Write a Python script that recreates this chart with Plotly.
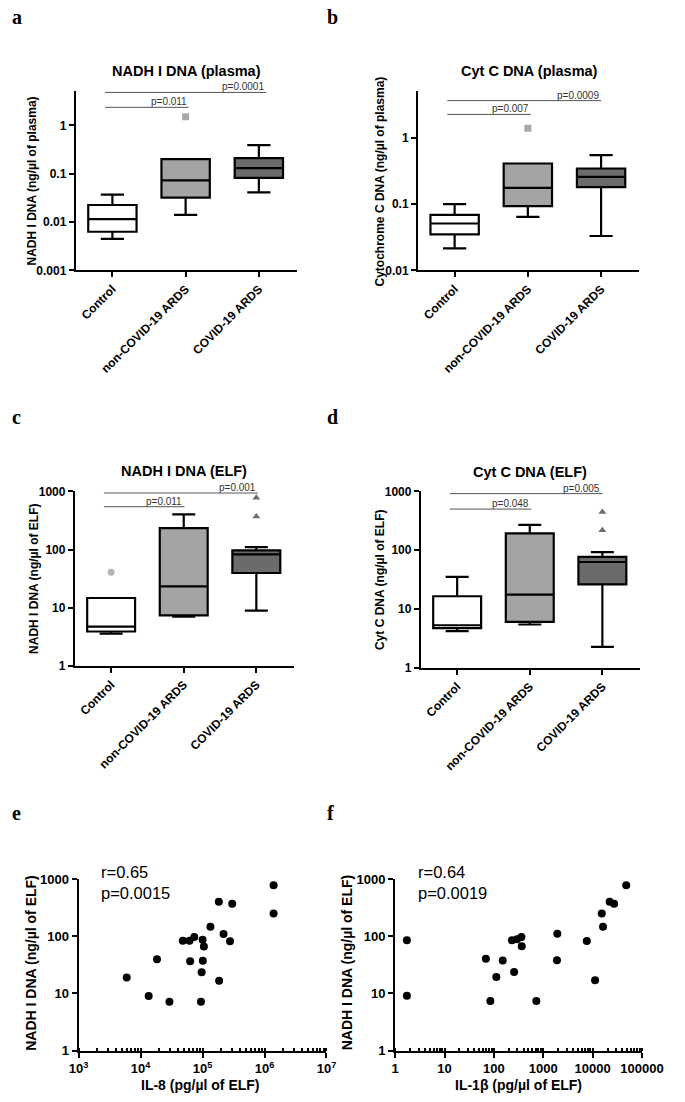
import math
import plotly.graph_objects as go

W, H = 685, 1102
FONT = "Liberation Sans"

GROUPS = ["Control", "non-COVID-19 ARDS", "COVID-19 ARDS"]
BOX_FILL = ["#ffffff", "#a4a4a6", "#6b6b6b"]
OUT_SYMBOL = {"Control": "circle", "non-COVID-19 ARDS": "square", "COVID-19 ARDS": "triangle-up"}
OUT_COLOR = {"Control": "#b4b4b4", "non-COVID-19 ARDS": "#a8a8a8", "COVID-19 ARDS": "#6e6e6e"}

# ---- Panel a: NADH I DNA (plasma)
A_LOW = [0.0045, 0.014, 0.041]
A_Q1 = [0.0063, 0.032, 0.082]
A_MED = [0.0115, 0.073, 0.13]
A_Q3 = [0.0225, 0.20, 0.21]
A_HIGH = [0.037, 0.20, 0.39]
A_OUT_G = ["non-COVID-19 ARDS"]
A_OUT_V = [1.5]
A_SIG_END = [1.04, 2.1]
A_SIG_Y = [2.36, 4.8]
A_SIG_TXT = ["p=0.011", "p=0.0001"]

# ---- Panel b: Cyt C DNA (plasma)
B_LOW = [0.0215, 0.064, 0.033]
B_Q1 = [0.035, 0.093, 0.18]
B_MED = [0.051, 0.176, 0.257]
B_Q3 = [0.069, 0.41, 0.345]
B_HIGH = [0.10, 0.41, 0.55]
B_OUT_G = ["non-COVID-19 ARDS"]
B_OUT_V = [1.4]
B_SIG_END = [1.04, 2.0]
B_SIG_Y = [2.26, 3.65]
B_SIG_TXT = ["p=0.007", "p=0.0009"]

# ---- Panel c: NADH I DNA (ELF)
C_LOW = [3.57, 7.0, 8.9]
C_Q1 = [3.9, 7.4, 39.5]
C_MED = [4.75, 23.2, 82.8]
C_Q3 = [14.7, 234, 96.7]
C_HIGH = [14.7, 403, 110]
C_OUT_G = ["Control", "COVID-19 ARDS", "COVID-19 ARDS"]
C_OUT_V = [40.5, 773, 368]
C_SIG_END = [1.01, 2.02]
C_SIG_Y = [544, 935]
C_SIG_TXT = ["p=0.011", "p=0.001"]

# ---- Panel d: Cyt C DNA (ELF)
D_LOW = [4.2, 5.46, 2.28]
D_Q1 = [4.74, 6.05, 26.2]
D_MED = [5.3, 17.6, 63]
D_Q3 = [16.5, 193, 77.2]
D_HIGH = [35.3, 269, 92.5]
D_OUT_G = ["COVID-19 ARDS", "COVID-19 ARDS"]
D_OUT_V = [445, 219]
D_SIG_END = [1.02, 2.0]
D_SIG_Y = [499, 914]
D_SIG_TXT = ["p=0.048", "p=0.005"]

# ---- Panel e: IL-8 vs NADH I DNA (ELF)
E_IL8 = [5970, 13500, 18400, 29200, 48000, 61500, 63000, 73500, 94200, 96600, 100000,
         101000, 105000, 134000, 183000, 185000, 218000, 277000, 301000, 1400000, 1400000]
E_NADH = [18.9, 8.96, 39.7, 7.14, 83.5, 83.5, 36.6, 96.6, 7.14, 23.3, 86.9,
          37.1, 65.7, 146, 400, 16.7, 109, 81.3, 370, 778, 248]

# ---- Panel f: IL-1β vs NADH I DNA (ELF)
F_IL1B = [1.73, 1.73, 68.9, 84.8, 112, 151, 232, 257, 294, 361, 367,
          724, 1925, 1895, 7620, 11200, 15300, 16200, 22100, 27200, 47800]
F_NADH = [84.6, 9.08, 40.2, 7.34, 19.4, 37.6, 84.6, 23.6, 88, 96.6, 66.6,
          7.34, 110, 38.1, 82.4, 16.9, 248, 146, 400, 370, 778]

E_XTICKS = [1e3, 1e4, 1e5, 1e6, 1e7]
E_XLABELS = ["10<sup>3</sup>", "10<sup>4</sup>", "10<sup>5</sup>", "10<sup>6</sup>", "10<sup>7</sup>"]
F_XTICKS = [1, 10, 100, 1000, 10000, 100000]
F_XLABELS = ["1", "10", "100", "1000", "10000", "100000"]


def px(x):
    return x / W


def py(y):
    return 1 - y / H


fig = go.Figure()
annotations = []
shapes = []

AX = dict(showline=True, linecolor="black", linewidth=2, ticks="outside", ticklen=5,
          tickwidth=2, tickcolor="black", showgrid=False, zeroline=False,
          tickfont=dict(family=FONT, size=12, color="black", weight="bold"))


def box_panel(n, low, q1, med, q3, high, out_g, out_v, sig_end, sig_y, sig_txt,
              xdom, ydom, yrange, title, title_xy, ytitle, ytitle_xy):
    xa = "x" if n == 1 else f"x{n}"
    ya = "y" if n == 1 else f"y{n}"
    for i, g in enumerate(GROUPS):
        fig.add_trace(go.Box(
            x=[g], q1=[q1[i]], median=[med[i]], q3=[q3[i]],
            lowerfence=[low[i]], upperfence=[high[i]],
            fillcolor=BOX_FILL[i], line=dict(color="black", width=2.2),
            whiskerwidth=0.48, width=0.66, boxpoints=False,
            xaxis=xa, yaxis=ya, showlegend=False, hoverinfo="skip"))
    for g, v in zip(out_g, out_v):
        fig.add_trace(go.Scatter(
            x=[g], y=[v], mode="markers",
            marker=dict(symbol=OUT_SYMBOL[g], color=OUT_COLOR[g], size=7, line=dict(width=0)),
            xaxis=xa, yaxis=ya, showlegend=False, hoverinfo="skip"))
    for e, yv, t in zip(sig_end, sig_y, sig_txt):
        shapes.append(dict(type="line", xref=xa, yref=ya, x0=-0.1, x1=e, y0=yv, y1=yv,
                           line=dict(color="#555555", width=1)))
        annotations.append(dict(xref=xa, yref=ya, x=e, y=math.log10(yv), text=t, showarrow=False,
                                xanchor="right", yanchor="bottom", yshift=-2,
                                font=dict(family=FONT, size=10, color="#333333")))
    xk = "xaxis" if n == 1 else f"xaxis{n}"
    yk = "yaxis" if n == 1 else f"yaxis{n}"
    fig.layout[xk] = dict(AX, domain=[px(xdom[0]), px(xdom[1])], anchor=ya,
                          type="category", categoryorder="array", categoryarray=GROUPS,
                          range=[-0.5, 2.52], tickangle=-45)
    fig.layout[yk] = dict(AX, domain=[py(ydom[1]), py(ydom[0])], anchor=xa,
                          type="log", range=yrange, dtick=1, exponentformat="none")
    annotations.append(dict(xref="paper", yref="paper", x=px(title_xy[0]), y=py(title_xy[1]),
                            text=title, showarrow=False, xanchor="center", yanchor="middle",
                            font=dict(family=FONT, size=14.5, color="black", weight="bold")))
    annotations.append(dict(xref="paper", yref="paper", x=px(ytitle_xy[0]), y=py(ytitle_xy[1]),
                            text=ytitle, showarrow=False, textangle=-90,
                            xanchor="center", yanchor="middle",
                            font=dict(family=FONT, size=12, color="black", weight="bold")))


box_panel(1, A_LOW, A_Q1, A_MED, A_Q3, A_HIGH, A_OUT_G, A_OUT_V, A_SIG_END, A_SIG_Y, A_SIG_TXT,
          (69, 301), (85, 267), [-3, 0.714], "NADH I DNA (plasma)", (185, 65),
          "NADH I DNA (ng/µl of plasma)", (23, 176))
box_panel(2, B_LOW, B_Q1, B_MED, B_Q3, B_HIGH, B_OUT_G, B_OUT_V, B_SIG_END, B_SIG_Y, B_SIG_TXT,
          (428, 660), (85, 267), [-2, 0.71], "Cyt C DNA (plasma)", (545, 65),
          "Cytochrome C DNA (ng/µl of plasma)", (388, 177))
box_panel(3, C_LOW, C_Q1, C_MED, C_Q3, C_HIGH, C_OUT_G, C_OUT_V, C_SIG_END, C_SIG_Y, C_SIG_TXT,
          (68, 298), (491, 668), [0, 3], "NADH I DNA (ELF)", (183, 470),
          "NADH I DNA (ng/µl of ELF)", (25, 580))
box_panel(4, D_LOW, D_Q1, D_MED, D_Q3, D_HIGH, D_OUT_G, D_OUT_V, D_SIG_END, D_SIG_Y, D_SIG_TXT,
          (431, 661), (491, 670), [0, 3], "Cyt C DNA (ELF)", (546, 471),
          "Cyt C DNA (ng/µl of ELF)", (388, 581))

# ---- scatter panels
MINOR = dict(ticks="inside", ticklen=3, tickwidth=1.5, tickcolor="black", dtick="D1", showgrid=False)
SC_TICK = dict(family=FONT, size=13, color="black", weight="bold")

fig.add_trace(go.Scatter(x=E_IL8, y=E_NADH, mode="markers", xaxis="x5", yaxis="y5",
                         marker=dict(color="black", size=8), showlegend=False, hoverinfo="skip"))
fig.add_trace(go.Scatter(x=F_IL1B, y=F_NADH, mode="markers", xaxis="x6", yaxis="y6",
                         marker=dict(color="black", size=8), showlegend=False, hoverinfo="skip"))

fig.layout["xaxis5"] = dict(AX, domain=[px(72), px(332)], anchor="y5", type="log", range=[3, 7],
                            tickvals=E_XTICKS, ticktext=E_XLABELS, minor=MINOR, tickfont=SC_TICK)
fig.layout["yaxis5"] = dict(AX, domain=[py(1058), py(884)], anchor="x5", type="log", range=[0, 3],
                            dtick=1, exponentformat="none", tickfont=SC_TICK)
fig.layout["xaxis6"] = dict(AX, domain=[px(404), px(663)], anchor="y6", type="log", range=[0, 5],
                            tickvals=F_XTICKS, ticktext=F_XLABELS, minor=MINOR, tickfont=SC_TICK)
fig.layout["yaxis6"] = dict(AX, domain=[py(1058), py(884)], anchor="x6", type="log", range=[0, 3],
                            dtick=1, exponentformat="none", tickfont=SC_TICK)

SC_TITLE = dict(family=FONT, size=14, color="black", weight="bold")
for xx, t in [(200, "IL-8 (pg/µl of ELF)"), (533, "IL-1β (pg/µl of ELF)")]:
    annotations.append(dict(xref="paper", yref="paper", x=px(xx), y=py(1093), text=t,
                            showarrow=False, xanchor="center", yanchor="middle", font=SC_TITLE))
for xx in [22, 353]:
    annotations.append(dict(xref="paper", yref="paper", x=px(xx), y=py(969),
                            text="NADH I DNA (ng/µl of ELF)", showarrow=False, textangle=-90,
                            xanchor="center", yanchor="middle", font=SC_TITLE))
for xx, t in [(93, "r=0.65<br>p=0.0015"), (426, "r=0.64<br>p=0.0019")]:
    annotations.append(dict(xref="paper", yref="paper", x=px(xx), y=py(866), text=t,
                            showarrow=False, xanchor="left", yanchor="top", align="left",
                            font=dict(family=FONT, size=16.5, color="black")))

# ---- panel letters
for t, xx, yy in [("a", 0, 10), ("b", 330, 10), ("c", 0, 416), ("d", 330, 416), ("e", 0, 817), ("f", 330, 817)]:
    annotations.append(dict(xref="paper", yref="paper", x=px(xx), y=py(yy), text=t,
                            showarrow=False, xanchor="left", yanchor="middle",
                            font=dict(family="Liberation Serif", size=20, color="black", weight="bold")))

fig.update_layout(width=W, height=H, margin=dict(l=0, r=0, t=0, b=0),
                  paper_bgcolor="white", plot_bgcolor="white", boxmode="overlay",
                  annotations=annotations, shapes=shapes, showlegend=False)

fig.write_html("out.html", config={"displayModeBar": False},
               post_script="document.body.style.margin='0px';")
